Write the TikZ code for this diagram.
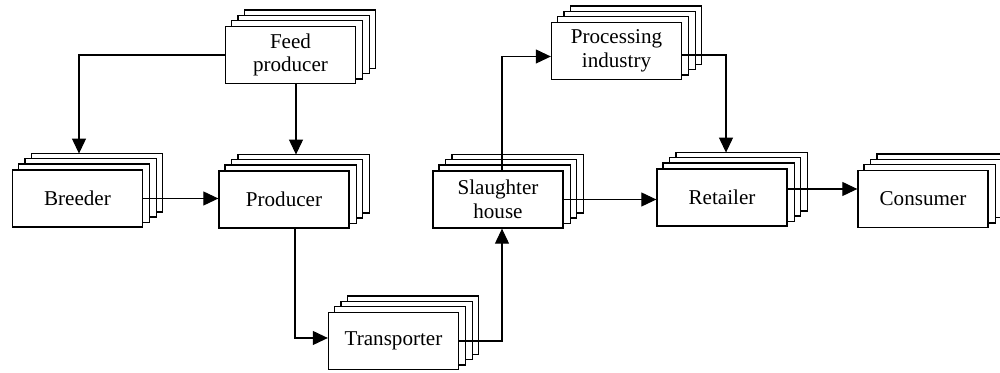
\documentclass[tikz,border=0pt]{standalone}
\usepackage{fontspec}
\setmainfont{Liberation Serif}
\usepackage{tikz}
\usetikzlibrary{arrows.meta,positioning,backgrounds}

\begin{document}
\begin{tikzpicture}[
    unit/.style={rectangle,draw,line width=0.75pt,fill=white,minimum width=2.6cm,minimum height=1.14cm,inner sep=2pt,align=center,font=\fontsize{12}{13.5}\selectfont},
    layer/.style={draw,line width=0.75pt,fill=white},
    link/.style={-{Triangle[length=3mm,width=2.8mm]},line width=0.6pt}
]
\useasboundingbox (0,0) rectangle (20,-7.46);

% Front boxes
\node[unit] (breeder) at (1.55,-3.97) {Breeder};
\node[unit] (producer) at (5.68,-3.99) {Producer};
\node[unit] (feed) at (5.81,-1.10) {Feed\\producer};
\node[unit] (transporter) at (7.87,-6.82) {Transporter};
\node[unit] (slaughter) at (9.96,-3.99) {Slaughter\\house};
\node[unit] (processing) at (12.33,-1.02) {Processing\\industry};
\node[unit] (retailer) at (14.44,-3.95) {Retailer};
\node[unit] (consumer) at (18.46,-3.98) {Consumer};

% Stacked copies behind
\begin{scope}[on background layer]
\foreach \n in {breeder,producer,feed,transporter,slaughter,processing,retailer,consumer}
  \foreach \k in {3,2,1}
    \draw[layer] ([shift={(\k*0.13,\k*0.105)}]\n.south west) rectangle ([shift={(\k*0.13,\k*0.105)}]\n.north east);
\end{scope}

% Top edge of each stack
\coordinate (breeder top) at ([yshift=0.315cm]breeder.north);
\coordinate (producer top) at ([yshift=0.315cm]producer.north);
\coordinate (retailer top) at ([yshift=0.315cm]retailer.north);

% Flows
\coordinate (fp out) at ([xshift=0.11cm]feed.south);
\coordinate (pr out) at ([xshift=0.22cm]producer.south);
\draw[link] (feed.west) -| ([xshift=0.03cm]breeder top);
\draw[link] (fp out) -- (fp out |- producer top);
\draw[link] (breeder.east) -- (breeder.east -| producer.west);
\draw[link] (pr out) |- ([yshift=0.06cm]transporter.west);
\draw[link] (transporter.east) -| ([xshift=0.08cm]slaughter.south);
\draw[link] ([xshift=0.08cm]slaughter.north) |- ([yshift=-0.11cm]processing.west);
\draw[link] ([yshift=-0.08cm]processing.east) -| ([xshift=0.08cm]retailer top);
\draw[link] (slaughter.east) -- (slaughter.east -| retailer.west);
\draw[link] ([yshift=0.17cm]retailer.east) -- ([yshift=0.2cm]consumer.west);

\end{tikzpicture}
\end{document}
